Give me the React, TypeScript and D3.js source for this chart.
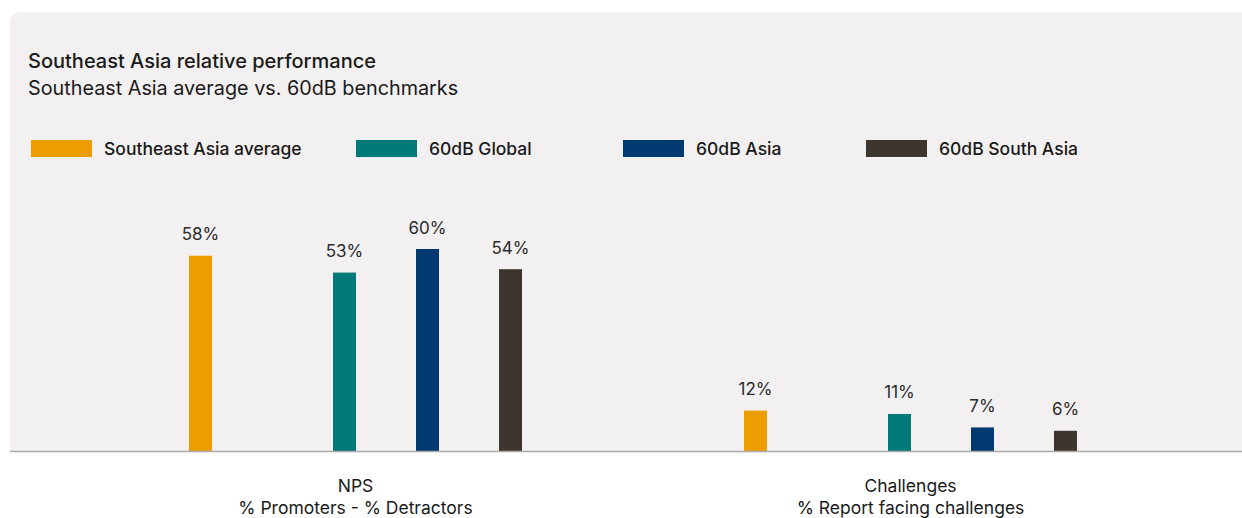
import React, { useEffect, useRef } from "react";
import * as d3 from "d3";

const categories = ["NPS", "Challenges"];
const categorySubtitles = ["% Promoters - % Detractors", "% Report facing challenges"];
const seriesNames = ["Southeast Asia average", "60dB Global", "60dB Asia", "60dB South Asia"];
const seriesColors = ["#EC9D00", "#007A78", "#003A70", "#3D352F"];
const npsValues = [58, 53, 60, 54];
const challengeValues = [12, 11, 7, 6];

const W = 1242;
const H = 518;
const FONT = "Inter, 'Noto Sans', sans-serif";

const App: React.FC = () => {
  const svgRef = useRef<SVGSVGElement>(null);

  useEffect(() => {
    if (!svgRef.current) return;
    const svg = d3.select(svgRef.current);
    svg.selectAll("*").remove();

    const baseY = 451;
    const panelL = 10, panelT = 12, r = 12;

    // Panel background
    svg.append("path")
      .attr("d", `M${panelL},${baseY} V${panelT + r} Q${panelL},${panelT} ${panelL + r},${panelT} H${W} V${baseY} Z`)
      .attr("fill", "#F2F0F0");

    // Title
    svg.append("text")
      .attr("x", 28).attr("y", 68)
      .attr("font-family", FONT).attr("font-size", 20).attr("font-weight", 500)
      .attr("fill", "#1a1a1a")
      .text("Southeast Asia relative performance");
    svg.append("text")
      .attr("x", 28).attr("y", 95)
      .attr("font-family", FONT).attr("font-size", 19.8).attr("font-weight", 400)
      .attr("fill", "#1a1a1a")
      .text("Southeast Asia average vs. 60dB benchmarks");

    // Legend
    const legendX = [31, 356, 623, 866];
    const legend = svg.append("g");
    seriesNames.forEach((name, i) => {
      legend.append("rect")
        .attr("x", legendX[i]).attr("y", 140)
        .attr("width", 61).attr("height", 17)
        .attr("fill", seriesColors[i]);
      legend.append("text")
        .attr("x", legendX[i] + 73).attr("y", 155)
        .attr("font-family", FONT).attr("font-size", 17.5).attr("font-weight", 500)
        .attr("fill", "#1a1a1a")
        .text(name);
    });

    // Scales
    const x0 = d3.scaleBand<string>()
      .domain(categories)
      .range([78, 1188])
      .padding(0);

    // slot offsets within a group (unit = 83px), bar centres relative to group centre
    const slots = [0, 1.735, 2.735, 3.735];
    const x1 = d3.scaleLinear().domain([0, 3.735]).range([-155, 155]);
    const barW = 23;

    const y = d3.scaleLinear().domain([0, 60]).range([baseY, 249]);

    const rows = [npsValues, challengeValues];

    categories.forEach((cat, ci) => {
      const cx = (x0(cat) || 0) + x0.bandwidth() / 2;
      const g = svg.append("g");
      g.selectAll("rect")
        .data(rows[ci])
        .enter()
        .append("rect")
        .attr("x", (_, i) => cx + x1(slots[i]) - barW / 2)
        .attr("y", d => y(d))
        .attr("width", barW)
        .attr("height", d => baseY - y(d))
        .attr("fill", (_, i) => seriesColors[i]);

      g.selectAll("text.val")
        .data(rows[ci])
        .enter()
        .append("text")
        .attr("class", "val")
        .attr("x", (_, i) => cx + x1(slots[i]))
        .attr("y", d => y(d) - 15.5)
        .attr("text-anchor", "middle")
        .attr("font-family", FONT).attr("font-size", 17).attr("font-weight", 400)
        .attr("fill", "#2b2b2b")
        .text(d => `${d}%`);

      g.append("text")
        .attr("x", cx).attr("y", 492)
        .attr("text-anchor", "middle")
        .attr("font-family", FONT).attr("font-size", 17.5).attr("font-weight", 400)
        .attr("fill", "#1a1a1a")
        .text(cat);
      g.append("text")
        .attr("x", cx).attr("y", 514)
        .attr("text-anchor", "middle")
        .attr("font-family", FONT).attr("font-size", 17.5).attr("font-weight", 400)
        .attr("fill", "#1a1a1a")
        .text(categorySubtitles[ci]);
    });

    // Baseline axis
    svg.append("line")
      .attr("x1", panelL).attr("x2", W)
      .attr("y1", baseY + 0.5).attr("y2", baseY + 0.5)
      .attr("stroke", "#ABA9A9").attr("stroke-width", 1.5);
  }, []);

  return (
    <svg
      ref={svgRef}
      width={W}
      height={H}
      style={{ position: "absolute", left: 0, top: 0, background: "#fff" }}
    />
  );
};

export default App;
